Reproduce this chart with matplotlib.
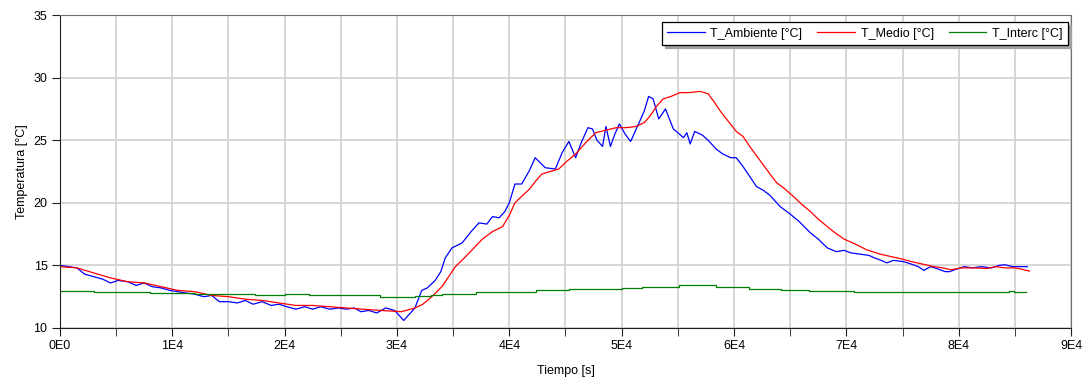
#! /usr/bin/env python3

import matplotlib
matplotlib.use("Agg")
import matplotlib.pyplot as plt
from matplotlib.ticker import MultipleLocator, FuncFormatter

# T_Ambiente [°C]
t_amb = [0, 800, 1500, 2200, 3000, 3800, 4500, 5200, 6000, 6800, 7500, 8200,
         9000, 9800, 10500, 11200, 12000, 12800, 13500, 14200, 15000, 15800,
         16500, 17200, 18000, 18800, 19500, 20200, 21000, 21800, 22500, 23200,
         24000, 24800, 25500, 26200, 26800, 27500, 28200, 29000, 29800, 30300,
         30600, 31000, 31600, 32200, 32700, 33400, 33900, 34300, 34900, 35800,
         36600, 37300, 38000, 38500, 39100, 39600, 40000, 40500, 41100, 41800,
         42300, 43200, 44100, 44700, 45300, 45900, 46400, 47000, 47400, 47800,
         48300, 48600, 49000, 49400, 49800, 50300, 50800, 51600, 52000, 52400,
         52800, 53300, 53900, 54600, 55000, 55500, 55800, 56100, 56500, 57200,
         57800, 58400, 59000, 59700, 60200, 60800, 61400, 62000, 62600, 63200,
         64100, 65000, 65800, 66800, 67500, 68300, 69100, 69800, 70400, 71200,
         72000, 72500, 73100, 73600, 74200, 75100, 75800, 76400, 76900, 77500,
         78200, 78800, 79200, 79800, 80500, 81200, 82000, 82900, 83600, 84100,
         84800, 85500, 86100]
T_amb = [15.0, 14.9, 14.8, 14.3, 14.1, 13.9, 13.6, 13.8, 13.7, 13.4, 13.6, 13.3,
         13.2, 13.0, 12.9, 12.8, 12.7, 12.5, 12.6, 12.1, 12.1, 12.0,
         12.2, 11.9, 12.1, 11.8, 11.9, 11.7, 11.5, 11.7, 11.5, 11.7,
         11.5, 11.6, 11.5, 11.6, 11.3, 11.4, 11.2, 11.6, 11.4, 10.9,
         10.6, 11.0, 11.6, 13.0, 13.2, 13.8, 14.5, 15.6, 16.4, 16.8,
         17.7, 18.4, 18.3, 18.9, 18.8, 19.3, 20.0, 21.5, 21.5, 22.6,
         23.6, 22.8, 22.7, 24.0, 24.9, 23.6, 24.8, 26.0, 25.9, 25.0,
         24.5, 26.1, 24.5, 25.5, 26.3, 25.5, 24.9, 26.5, 27.3, 28.5,
         28.3, 26.7, 27.5, 25.9, 25.6, 25.2, 25.6, 24.7, 25.7, 25.4,
         24.9, 24.3, 23.9, 23.6, 23.6, 22.9, 22.1, 21.3, 21.0, 20.6,
         19.7, 19.1, 18.5, 17.6, 17.1, 16.4, 16.1, 16.2, 16.0, 15.9,
         15.8, 15.6, 15.4, 15.2, 15.4, 15.3, 15.1, 14.9, 14.6, 14.9,
         14.7, 14.5, 14.5, 14.7, 14.9, 14.8, 14.9, 14.8, 15.0, 15.05,
         14.9, 14.9, 14.9]

# T_Medio [°C]
t_med = [0, 1500, 3000, 4500, 6000, 7500, 9000, 10500, 12000, 13500, 15000,
         16500, 18000, 19500, 21000, 22500, 24000, 25500, 27000, 28600, 30400,
         31600, 32300, 33100, 34000, 35200, 36000, 36700, 37600, 38500, 39400,
         40000, 40500, 41200, 41800, 42400, 42900, 44400, 45100, 45900, 46800,
         47700, 48600, 49500, 50400, 51300, 52000, 52500, 53100, 53700, 54400,
         55200, 56000, 57000, 57700, 58200, 58800, 59500, 60200, 60800, 61400,
         62300, 63200, 63800, 64400, 65300, 66000, 66800, 67500, 68300, 69000,
         69800, 70800, 71800, 73000, 74000, 75000, 75800, 76800, 77800, 78600,
         79300, 80200, 81400, 82500, 83300, 84100, 85000, 85600, 86000, 86300]
T_med = [14.9, 14.8, 14.4, 14.0, 13.7, 13.6, 13.3, 13.0, 12.9, 12.6, 12.5,
         12.3, 12.2, 12.0, 11.8, 11.8, 11.7, 11.6, 11.5, 11.4, 11.3,
         11.6, 11.9, 12.5, 13.3, 14.9, 15.6, 16.25, 17.1, 17.7, 18.1,
         19.0, 20.0, 20.6, 21.1, 21.8, 22.3, 22.7, 23.3, 23.9, 24.8,
         25.6, 25.8, 26.0, 26.0, 26.1, 26.4, 26.9, 27.7, 28.3, 28.5,
         28.8, 28.8, 28.9, 28.7, 28.1, 27.3, 26.5, 25.7, 25.3, 24.5,
         23.4, 22.3, 21.6, 21.2, 20.5, 19.9, 19.3, 18.7, 18.1, 17.6,
         17.1, 16.7, 16.25, 15.9, 15.7, 15.5, 15.3, 15.1, 14.9, 14.8,
         14.65, 14.8, 14.8, 14.75, 14.9, 14.8, 14.8, 14.7, 14.6, 14.55]

# T_Interc [°C]
t_int = [0, 3000, 4000, 8000, 12000, 14000, 17400, 20000, 22200, 26000, 28500,
         31600, 33000, 34000, 37000, 41600, 42400, 45300, 47000, 50000, 51800,
         55100, 58400, 60200, 61300, 64200, 66000, 66700, 70700, 84500, 84900,
         86000]
T_int = [12.95, 12.9, 12.85, 12.8, 12.7, 12.75, 12.65, 12.7, 12.6, 12.6, 12.5,
         12.55, 12.6, 12.7, 12.85, 12.85, 13.0, 13.1, 13.15, 13.2, 13.3,
         13.4, 13.3, 13.25, 13.15, 13.05, 13.0, 12.95, 12.85, 12.95, 12.85,
         12.85]

plt.rcParams['font.family'] = ['Liberation Sans', 'DejaVu Sans']
plt.rcParams['font.size'] = 9

fig = plt.figure(figsize=(10.9, 3.82), dpi=100)
ax = fig.add_axes([0.0550, 0.1414, 0.9276, 0.8193])

ax.plot(t_amb, T_amb, color='#0000ff', lw=0.9, label='T_Ambiente [°C]')
ax.plot(t_med, T_med, color='#ff0000', lw=0.9, label='T_Medio [°C]')
ax.plot(t_int, T_int, color='#008000', lw=0.9, drawstyle='steps-post',
        label='T_Interc [°C]')

ax.set_xlim(0, 90000)
ax.set_ylim(10, 35)
ax.xaxis.set_major_locator(MultipleLocator(10000))
ax.xaxis.set_minor_locator(MultipleLocator(5000))
ax.yaxis.set_major_locator(MultipleLocator(5))
ax.xaxis.set_major_formatter(FuncFormatter(
    lambda v, p: "0E0" if v == 0 else "%dE4" % round(v / 10000)))

ax.grid(True, which='both', axis='x', color='#d0d0d0', lw=1.2)
ax.grid(True, which='major', axis='y', color='#d0d0d0', lw=1.2)
ax.set_axisbelow(True)

for s in ('left', 'bottom'):
    ax.spines[s].set_color('#202020')
for s in ('top', 'right'):
    ax.spines[s].set_color('#707070')
ax.tick_params(which='both', direction='out', length=6, color='#202020',
               labelsize=9, pad=3)

ax.set_xlabel('Tiempo [s]', fontsize=9, labelpad=9)
ax.set_ylabel('Temperatura [°C]', fontsize=9, labelpad=4)

leg = ax.legend(loc='upper right', bbox_to_anchor=(0.9798, 0.9424),
                bbox_transform=fig.transFigure, ncol=3, fancybox=False,
                shadow={'color': '#a0a0a0', 'alpha': 1}, framealpha=1,
                edgecolor='black', borderaxespad=0,
                handlelength=3.0, columnspacing=1.2, handletextpad=0.45,
                borderpad=0.45, fontsize=9)
leg.get_frame().set_linewidth(0.9)

fig.savefig("out.png")
